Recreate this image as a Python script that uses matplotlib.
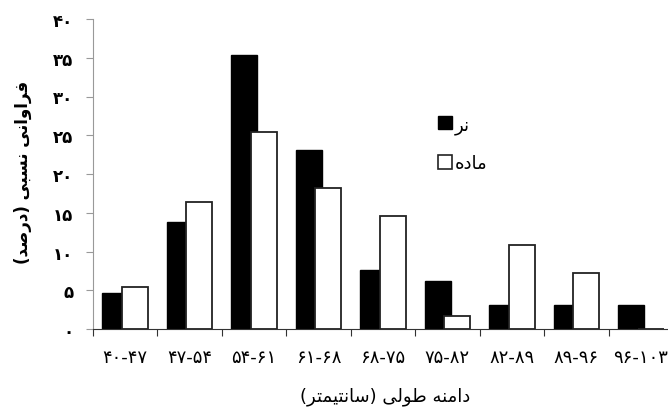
import matplotlib
matplotlib.use('Agg')
import matplotlib.pyplot as plt
from matplotlib.patches import Patch


ranges = ['۴۰-۴۷', '۴۷-۵۴', '۵۴-۶۱', '۶۱-۶۸', '۶۸-۷۵', '۷۵-۸۲', '۸۲-۸۹', '۸۹-۹۶', '۹۶-۱۰۳']
male = [4.6, 13.8, 35.4, 23.1, 7.6, 6.2, 3.1, 3.1, 3.1]
female = [5.4, 16.4, 25.4, 18.2, 14.6, 1.7, 10.8, 7.2, 0]
y_ticks = [0, 5, 10, 15, 20, 25, 30, 35, 40]

x_title = 'دامنه طولی (سانتیمتر)'
y_title = 'فراوانی نسبی (درصد)'
male_name = 'نر'
female_name = 'ماده'


# matplotlib has no arabic shaping, so pick presentation forms by hand
FORMS = {
	'ا': ('\uFE8D', '\uFE8E', None, None),
	'ب': ('\uFE8F', '\uFE90', '\uFE91', '\uFE92'),
	'ت': ('\uFE95', '\uFE96', '\uFE97', '\uFE98'),
	'د': ('\uFEA9', '\uFEAA', None, None),
	'ر': ('\uFEAD', '\uFEAE', None, None),
	'س': ('\uFEB1', '\uFEB2', '\uFEB3', '\uFEB4'),
	'ص': ('\uFEB9', '\uFEBA', '\uFEBB', '\uFEBC'),
	'ط': ('\uFEC1', '\uFEC2', '\uFEC3', '\uFEC4'),
	'ف': ('\uFED1', '\uFED2', '\uFED3', '\uFED4'),
	'ل': ('\uFEDD', '\uFEDE', '\uFEDF', '\uFEE0'),
	'م': ('\uFEE1', '\uFEE2', '\uFEE3', '\uFEE4'),
	'ن': ('\uFEE5', '\uFEE6', '\uFEE7', '\uFEE8'),
	'ه': ('\uFEE9', '\uFEEA', '\uFEEB', '\uFEEC'),
	'و': ('\uFEED', '\uFEEE', None, None),
	'ی': ('\uFBFC', '\uFBFD', '\uFBFE', '\uFBFF'),
}
MIRROR = {'(': ')', ')': '('}


def shape(text):
	out = []
	for i, ch in enumerate(text):
		if ch not in FORMS:
			out.append(MIRROR.get(ch, ch))
			continue
		prev = text[i - 1] if i > 0 else ''
		nxt = text[i + 1] if i + 1 < len(text) else ''
		joins_prev = prev in FORMS and FORMS[prev][2] is not None
		joins_next = nxt in FORMS and FORMS[ch][2] is not None
		iso, fin, ini, med = FORMS[ch]
		if joins_prev and joins_next:
			out.append(med)
		elif joins_prev:
			out.append(fin)
		elif joins_next:
			out.append(ini)
		else:
			out.append(iso)
	return ''.join(reversed(out))


def fa_digits(n):
	return str(n).translate(str.maketrans('0123456789', '۰۱۲۳۴۵۶۷۸۹'))


def main():
	plt.rcParams['font.family'] = ['DejaVu Sans']
	fig = plt.figure(figsize=(6.68, 4.10), dpi=100)
	ax = fig.add_axes([92.7 / 668, 80 / 410, 580.5 / 668, 310 / 410])

	pos = [i + 0.5 for i in range(len(ranges))]
	w = 0.40
	ax.bar([p - 0.15 for p in pos], male, width=w, color='black',
		edgecolor='black', linewidth=1, zorder=2)
	ax.bar([p + 0.15 for p in pos], female, width=w, color='white',
		edgecolor='#222222', linewidth=1.3, zorder=3)

	ax.set_xlim(0, len(ranges))
	ax.set_ylim(0, 40)

	ax.set_xticks(range(len(ranges) + 1))
	ax.set_xticklabels([])
	ax.set_xticks(pos, minor=True)
	ax.set_xticklabels(ranges, minor=True, fontsize=13)
	ax.tick_params(axis='x', which='major', direction='out', length=5,
		color='#333333')
	ax.tick_params(axis='x', which='minor', length=0, pad=14)

	ax.set_yticks(y_ticks)
	ax.set_yticklabels([fa_digits(v) for v in y_ticks], fontsize=12,
		fontweight='bold')
	ax.tick_params(axis='y', direction='out', length=5, color='#999999', pad=9)

	ax.spines['top'].set_visible(False)
	ax.spines['right'].set_visible(False)
	ax.spines['left'].set_color('#999999')
	ax.spines['bottom'].set_color('#333333')

	fig.text(385 / 668, 1 - 397 / 410, shape(x_title), fontsize=13,
		ha='center', va='center')
	fig.text(23 / 668, 1 - 172 / 410, shape(y_title), fontsize=12,
		fontweight='bold', rotation=90, ha='center', va='center')

	handles = [Patch(facecolor='black', edgecolor='black'),
		Patch(facecolor='white', edgecolor='#222222', linewidth=1.2)]
	fig.legend(handles, [shape(male_name), shape(female_name)],
		loc='upper left', bbox_to_anchor=(429 / 668, 1 - 107 / 410),
		frameon=False, fontsize=13, handlelength=0.75, handleheight=0.75,
		handletextpad=0.2, labelspacing=1.15, borderpad=0)

	fig.savefig('out.png', dpi=100)


if __name__ == '__main__':
	main()
